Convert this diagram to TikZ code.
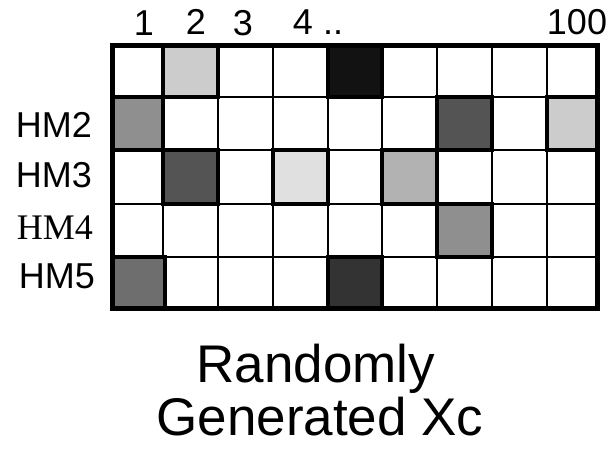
\documentclass[tikz,border=0pt]{standalone}
\usepackage{fontspec}
\setmainfont{Liberation Sans}
\newfontfamily\hmserif{Liberation Serif}
\usepackage{tikz}
\usetikzlibrary{positioning}

\begin{document}
\begin{tikzpicture}[
  x=1pt, y=-1pt,
  collabel/.style={anchor=base, inner sep=0pt, font=\fontsize{36}{36}\selectfont},
  rowlabel/.style={anchor=base east, inner sep=0pt, font=\fontsize{36}{36}\selectfont},
  title/.style={anchor=base, inner sep=0pt, font=\fontsize{53}{53}\selectfont},
  thin grid/.style={draw=black, line width=1.4pt},
  hit/.style={draw=black, line width=4.5pt}
]
\useasboundingbox (0,0) rectangle (610,453);

% column labels
\node[collabel] (c1) at (144,35) {1};
\node[collabel] (c2) at (196,34) {2};
\node[collabel] (c3) at (243,35) {3};
\node[collabel] (c4) at (303,34) {4};
\node[collabel] (cdots) at (333,34) {..};
\node[collabel] (c100) at (577,34) {100};

% row labels
\node[rowlabel] (hm2) at (92,137) {HM2};
\node[rowlabel] (hm3) at (92,187) {HM3};
\node[rowlabel, font=\hmserif\fontsize{36}{36}\selectfont] (hm4) at (93,239) {HM4};
\node[rowlabel] (hm5) at (95,288) {HM5};

% thin grid
\foreach \x in {163,218,273,328,382,437,492,547}
  \draw[thin grid] (\x,45.5) -- (\x,308.5);
\foreach \y in {97,150,204,257}
  \draw[thin grid] (112.5,\y) -- (597.5,\y);

% randomly chosen cells
\filldraw[hit, fill=black!20] (163,45.5) rectangle (218,97);
\filldraw[hit, fill=black!93] (328,45.5) rectangle (382,97);
\filldraw[hit, fill=black!44] (112.5,97) rectangle (163,150);
\filldraw[hit, fill=black!67] (437,97) rectangle (492,150);
\filldraw[hit, fill=black!20] (547,97) rectangle (597.5,150);
\filldraw[hit, fill=black!67] (163,150) rectangle (218,204);
\filldraw[hit, fill=black!12] (273,150) rectangle (328,204);
\filldraw[hit, fill=black!30] (382,150) rectangle (437,204);
\filldraw[hit, fill=black!44] (437,204) rectangle (492,257);
\filldraw[hit, fill=black!57] (112.5,257) rectangle (165,308.5);
\filldraw[hit, fill=black!80] (328,257) rectangle (382,308.5);

% outer frame
\draw[hit] (112.5,45.5) rectangle (597.5,308.5);

% caption
\node[title] (cap1) at (316,382) {Randomly};
\node[title] (cap2) at (320,435) {Generated Xc};
\end{tikzpicture}
\end{document}
